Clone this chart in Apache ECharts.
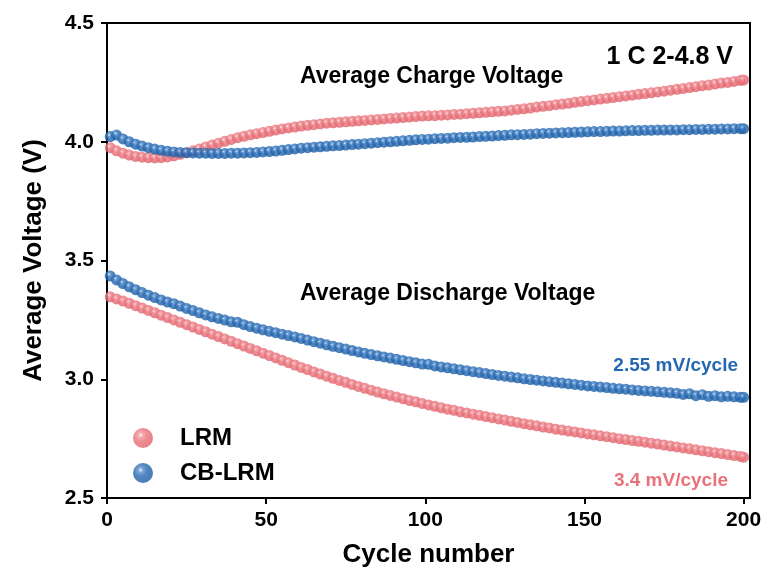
<!DOCTYPE html>
<html>
<head>
<meta charset="utf-8">
<script src="https://cdn.jsdelivr.net/npm/echarts@6/dist/echarts.min.js"></script>
<style>
html,body{margin:0;padding:0;background:#fff;}
#chart{width:766px;height:579px;}
</style>
</head>
<body>
<div id="chart"></div>
<script>
var cycles = [1,3,5,7,9,11,13,15,17,19,21,23,25,27,29,31,33,35,37,39,41,43,45,47,49,51,53,55,57,59,61,63,65,67,69,71,73,75,77,79,81,83,85,87,89,91,93,95,97,99,101,103,105,107,109,111,113,115,117,119,121,123,125,127,129,131,133,135,137,139,141,143,145,147,149,151,153,155,157,159,161,163,165,167,169,171,173,175,177,179,181,183,185,187,189,191,193,195,197,199,200];

var lrmCharge = [3.975,3.962,3.952,3.944,3.938,3.935,3.933,3.932,3.933,3.936,
3.941,3.947,3.954,3.962,3.970,3.978,3.986,3.994,4.002,4.010,
4.017,4.023,4.029,4.034,4.039,4.044,4.049,4.054,4.058,4.062,
4.066,4.069,4.072,4.075,4.078,4.080,4.082,4.084,4.086,4.088,
4.090,4.092,4.094,4.096,4.098,4.100,4.102,4.104,4.106,4.108,
4.109,4.110,4.112,4.113,4.115,4.116,4.118,4.120,4.122,4.124,
4.126,4.128,4.130,4.133,4.136,4.139,4.142,4.146,4.149,4.152,
4.156,4.159,4.162,4.166,4.170,4.173,4.176,4.180,4.183,4.186,
4.190,4.193,4.196,4.200,4.203,4.206,4.210,4.213,4.217,4.221,
4.224,4.228,4.232,4.236,4.239,4.243,4.247,4.250,4.254,4.258,
4.260];

var cbCharge = [4.022,4.028,4.012,4.000,3.990,3.982,3.975,3.969,3.964,3.960,
3.957,3.955,3.954,3.953,3.952,3.952,3.951,3.951,3.951,3.952,
3.952,3.953,3.954,3.955,3.957,3.959,3.961,3.964,3.967,3.970,
3.973,3.975,3.977,3.979,3.981,3.983,3.984,3.986,3.988,3.990,
3.992,3.994,3.996,3.998,4.000,4.002,4.004,4.006,4.008,4.010,
4.011,4.013,4.014,4.015,4.017,4.018,4.019,4.020,4.022,4.023,
4.024,4.026,4.027,4.029,4.030,4.031,4.032,4.034,4.035,4.036,
4.037,4.038,4.039,4.040,4.041,4.042,4.043,4.043,4.044,4.045,
4.045,4.046,4.047,4.047,4.048,4.048,4.049,4.049,4.050,4.050,
4.051,4.051,4.052,4.052,4.053,4.053,4.054,4.054,4.055,4.055,
4.055];

var lrmDischarge = [3.347,3.338,3.329,3.320,3.310,3.300,3.290,3.280,3.270,3.260,
3.250,3.240,3.230,3.220,3.210,3.200,3.190,3.180,3.170,3.160,
3.150,3.140,3.130,3.120,3.110,3.100,3.090,3.080,3.070,3.060,
3.050,3.041,3.031,3.022,3.013,3.004,2.995,2.987,2.978,2.970,
2.962,2.954,2.946,2.939,2.932,2.925,2.918,2.911,2.905,2.898,
2.892,2.886,2.880,2.874,2.869,2.863,2.858,2.853,2.848,2.843,
2.838,2.833,2.828,2.823,2.818,2.813,2.808,2.804,2.799,2.795,
2.790,2.786,2.782,2.778,2.774,2.770,2.766,2.762,2.758,2.754,
2.750,2.746,2.742,2.739,2.735,2.731,2.727,2.723,2.719,2.715,
2.711,2.707,2.703,2.699,2.695,2.691,2.687,2.683,2.679,2.675,
2.672];

var cbDischarge = [3.435,3.418,3.403,3.389,3.377,3.365,3.354,3.344,3.334,3.325,
3.318,3.308,3.298,3.289,3.280,3.271,3.263,3.256,3.249,3.242,
3.240,3.230,3.222,3.215,3.208,3.202,3.196,3.190,3.184,3.178,
3.172,3.165,3.158,3.152,3.145,3.139,3.133,3.127,3.121,3.115,
3.109,3.104,3.099,3.094,3.089,3.084,3.079,3.074,3.069,3.064,
3.063,3.056,3.052,3.048,3.044,3.040,3.036,3.032,3.028,3.024,
3.020,3.016,3.013,3.009,3.006,3.002,2.999,2.996,2.993,2.990,
2.987,2.984,2.981,2.978,2.975,2.972,2.970,2.967,2.965,2.962,
2.960,2.958,2.955,2.953,2.951,2.949,2.947,2.945,2.943,2.941,
2.936,2.939,2.931,2.935,2.928,2.931,2.926,2.928,2.926,2.924,
2.924];

var xTicks = [0,50,100,150,200];
var seriesNames = ['LRM','CB-LRM'];
var annotations = ['1 C 2-4.8 V','Average Charge Voltage','Average Discharge Voltage','2.55 mV/cycle','3.4 mV/cycle'];

function pairs(xs, ys){ return xs.map(function(x,i){ return [x, ys[i]]; }); }
function ball(light, base, dark){
  return {type:'radial', x:0.38, y:0.35, r:0.7, colorStops:[
    {offset:0, color:'#ffffff'},
    {offset:0.15, color:light},
    {offset:0.45, color:base},
    {offset:1, color:dark}
  ]};
}
var RED = '#E9727A', BLUE = '#2468B2';
var redBall = ball('#F29CA1', RED, '#DE6069');
var blueBall = ball('#5F94D0', BLUE, '#1B5A9E');

var FONT = 'Arial, "Liberation Sans", Helvetica, sans-serif';
var chart = echarts.init(document.getElementById('chart'), null, {renderer:'canvas'});

function mkSeries(name, data, col){
  return {name:name, type:'scatter', data:data, symbol:'circle', symbolSize:11,
    itemStyle:{color:col}, emphasis:{disabled:true}, silent:true};
}

chart.setOption({
  animation:false,
  backgroundColor:'#fff',
  grid:{left:107, right:16, top:23, bottom:81, show:true, borderColor:'#000', borderWidth:2, backgroundColor:'transparent'},
  xAxis:{type:'value', min:0, max:202, interval:50,
    name:'Cycle number', nameLocation:'middle', nameGap:44,
    nameTextStyle:{fontFamily:FONT, fontWeight:'bold', fontSize:26, color:'#000'},
    axisLine:{show:true, onZero:false, lineStyle:{color:'#000', width:2}},
    axisTick:{show:true, inside:false, length:6, lineStyle:{color:'#000', width:2}, customValues:xTicks},
    axisLabel:{fontFamily:FONT, fontWeight:'bold', fontSize:21, color:'#000', margin:12, customValues:xTicks},
    splitLine:{show:false}},
  yAxis:{type:'value', min:2.5, max:4.5, interval:0.5,
    name:'Average Voltage (V)', nameLocation:'middle', nameGap:60,
    nameTextStyle:{fontFamily:FONT, fontWeight:'bold', fontSize:26, color:'#000'},
    axisLine:{show:true, onZero:false, lineStyle:{color:'#000', width:2}},
    axisTick:{show:true, inside:false, length:6, lineStyle:{color:'#000', width:2}},
    axisLabel:{fontFamily:FONT, fontWeight:'bold', fontSize:21, color:'#000', margin:13,
      formatter:function(v){ return v.toFixed(1); }},
    splitLine:{show:false}},
  legend:{orient:'vertical', left:128, top:421, itemWidth:20, itemHeight:20, itemGap:11,
    icon:'circle', data:seriesNames, selectedMode:false,
    textStyle:{fontFamily:FONT, fontWeight:'bold', fontSize:24, color:'#000', padding:[0,0,0,22]}},
  series:[
    mkSeries(seriesNames[0], pairs(cycles, lrmCharge), redBall),
    mkSeries(seriesNames[0], pairs(cycles, lrmDischarge), redBall),
    mkSeries(seriesNames[1], pairs(cycles, cbCharge), blueBall),
    mkSeries(seriesNames[1], pairs(cycles, cbDischarge), blueBall)
  ],
  graphic:[
    {type:'text', right:33, top:45, style:{text:annotations[0], fontFamily:FONT, fontWeight:'bold', fontSize:25, fill:'#000'}},
    {type:'text', left:300, top:65, style:{text:annotations[1], fontFamily:FONT, fontWeight:'bold', fontSize:23, fill:'#000'}},
    {type:'text', left:300, top:282, style:{text:annotations[2], fontFamily:FONT, fontWeight:'bold', fontSize:23, fill:'#000'}},
    {type:'text', right:28, top:356, style:{text:annotations[3], fontFamily:FONT, fontWeight:'bold', fontSize:19, fill:BLUE}},
    {type:'text', right:38, top:471, style:{text:annotations[4], fontFamily:FONT, fontWeight:'bold', fontSize:19, fill:RED}}
  ]
});
</script>
</body>
</html>
